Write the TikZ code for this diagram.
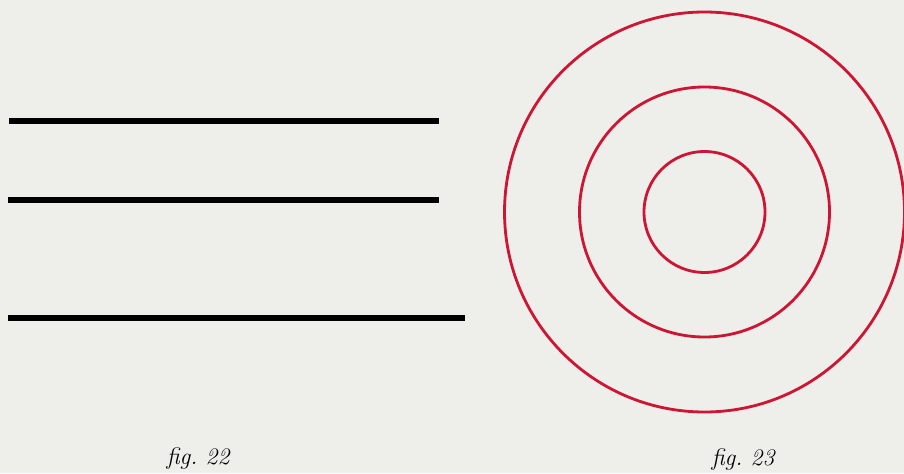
\documentclass[tikz,border=0pt]{standalone}
\usepackage{tikz}
\usetikzlibrary{calc}
\definecolor{paper}{RGB}{238,238,235}
\definecolor{ringred}{RGB}{205,22,52}

\begin{document}
\begin{tikzpicture}[x=1cm,y=1cm,
    ruleline/.style={line width=2.9pt,color=black},
    ring/.style={line width=1.6pt,color=ringred},
    figlabel/.style={font=\fontsize{13.5}{15}\selectfont\itshape,inner sep=0pt}]
    \fill[paper] (0,0) rectangle (18.08,9.46);
    \useasboundingbox (0,0) rectangle (18.08,9.46);
    % fig. 22 : three strands
    \draw [ruleline] (0.18,7.04) -- (8.78,7.04);
    \draw [ruleline] (0.16,5.46) -- (8.78,5.46);
    \draw [ruleline] (0.16,3.10) -- (9.30,3.10);
    % fig. 23 : three rings
    \coordinate (centre) at (14.09,5.22);
    \draw [ring] (centre) circle (4.00);
    \draw [ring] (centre) circle (2.50);
    \draw [ring] (centre) circle (1.21);
    \node[figlabel] (fig22) at (3.96,0.28) {fig.\ 22};
    \node[figlabel] (fig23) at (14.86,0.26) {fig.\ 23};
\end{tikzpicture}
\end{document}
